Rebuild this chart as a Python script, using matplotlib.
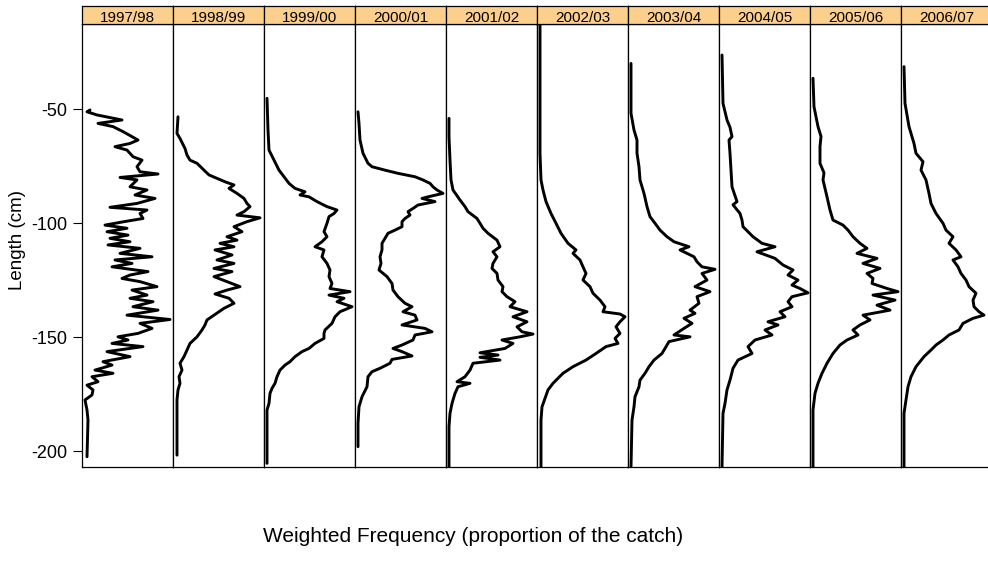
import matplotlib
matplotlib.use("Agg")
import matplotlib.pyplot as plt

plt.rcParams['font.family'] = ['Liberation Sans', 'DejaVu Sans']
plt.rcParams['axes.unicode_minus'] = False

# seasons shown in the strips
seasons = ['1997/98', '1998/99', '1999/00', '2000/01', '2001/02',
           '2002/03', '2003/04', '2004/05', '2005/06', '2006/07']

# length (cm, plotted negative) and weighted frequency (relative units) per season
len_9798 = [-50.4, -51.2, -52.6, -54.8, -56.3, -57.7, -59.9, -62.1, -63.6, -65.1, -66.5, -68.0, -70.9, -72.4,
            -75.3, -77.5, -78.5, -80.0, -81.1, -84.1, -85.5, -87.7, -89.2, -91.4, -93.1, -94.3, -95.8, -98.0,
            -99.4, -100.9, -102.3, -103.8, -105.3, -106.7, -108.2, -109.6, -111.1, -113.3, -114.8, -116.2,
            -117.7, -119.2, -121.3, -122.8, -124.3, -125.7, -127.9, -129.4, -131.6, -133.0, -134.5, -136.7,
            -138.2, -140.4, -142.3, -144.0, -146.2, -148.4, -149.9, -151.3, -152.8, -154.2, -156.4, -158.6,
            -160.8, -162.3, -164.5, -165.9, -167.4, -169.6, -171.1, -173.2, -175.4, -177.6, -182.0, -186.4, -202.5]
freq_9798 = [8, 5, 15, 40, 16, 31, 41, 50, 56, 48, 33, 45, 51, 60, 55, 58, 76, 38, 55, 48, 65, 53, 73, 55, 28,
             65, 58, 61, 42, 23, 45, 25, 46, 28, 48, 26, 58, 38, 70, 33, 50, 30, 66, 48, 40, 58, 75, 50, 65, 48,
             71, 51, 76, 45, 88, 58, 70, 56, 36, 46, 30, 61, 25, 48, 21, 30, 13, 31, 10, 16, 5, 11, 10, 3, 5, 6, 5]

len_9899 = [-53.4, -60.7, -62.9, -67.3, -70.2, -72.4, -73.8, -76.8, -78.9, -80.4, -81.9, -83.3, -84.8, -87.0,
            -89.2, -91.4, -92.8, -95.0, -96.5, -97.7, -99.4, -101.6, -103.8, -106.0, -107.5, -108.9, -110.4,
            -111.8, -114.0, -116.2, -117.7, -119.9, -121.3, -123.5, -125.7, -127.9, -129.4, -131.1, -133.0,
            -135.2, -137.4, -140.4, -142.5, -144.7, -146.9, -149.9, -152.8, -155.7, -158.6, -161.5, -164.5,
            -167.4, -170.3, -173.2, -177.6, -187.9, -201.8]
freq_9899 = [5, 4, 7, 12, 14, 17, 24, 31, 36, 44, 52, 61, 56, 64, 71, 74, 77, 71, 64, 87, 74, 61, 69, 54, 64,
             47, 61, 42, 59, 44, 61, 41, 59, 41, 54, 67, 54, 42, 56, 61, 51, 41, 34, 32, 29, 24, 17, 14, 11, 7,
             9, 6, 7, 5, 4, 4, 4]

len_9900 = [-45.3, -59.2, -68.0, -72.4, -76.8, -79.7, -82.6, -84.8, -86.3, -87.7, -88.5, -90.6, -92.8, -94.3,
            -95.8, -97.2, -100.1, -103.8, -106.0, -108.2, -110.4, -111.8, -114.8, -117.7, -120.6, -123.5,
            -126.5, -128.7, -130.1, -131.6, -133.0, -134.5, -136.7, -138.9, -141.1, -144.0, -146.9, -148.4,
            -150.6, -152.8, -155.0, -156.4, -158.6, -160.8, -162.3, -164.5, -167.4, -170.3, -172.5, -174.7,
            -179.1, -182.0, -187.9, -205.4]
freq_9900 = [3, 4, 5, 10, 15, 20, 25, 31, 41, 36, 45, 53, 63, 73, 70, 65, 63, 60, 63, 58, 51, 60, 58, 63, 66,
             65, 68, 66, 86, 65, 80, 73, 88, 76, 71, 68, 61, 60, 60, 51, 45, 38, 31, 26, 21, 16, 13, 11, 8, 6,
             5, 3, 3, 3]

len_0001 = [-51.2, -56.3, -63.6, -69.4, -73.8, -75.3, -76.8, -78.2, -79.7, -81.1, -82.6, -84.1, -85.5, -87.0,
            -88.5, -89.2, -90.6, -92.1, -93.6, -95.0, -96.5, -98.0, -99.4, -101.6, -103.1, -104.5, -106.7,
            -108.9, -111.8, -114.8, -117.7, -120.6, -123.5, -126.5, -129.4, -132.3, -135.2, -136.7, -138.9,
            -140.4, -142.5, -144.7, -146.2, -147.7, -149.1, -151.3, -153.5, -155.0, -156.4, -158.3, -159.8,
            -161.5, -163.7, -165.2, -167.4, -171.8, -176.2, -180.6, -187.9, -198.1]
freq_0001 = [3, 4, 5, 8, 13, 17, 30, 43, 60, 68, 75, 78, 82, 88, 73, 67, 80, 63, 58, 53, 55, 50, 47, 47, 40,
             33, 30, 27, 27, 25, 26, 24, 32, 37, 38, 43, 50, 57, 48, 60, 62, 47, 70, 77, 60, 58, 47, 38, 47, 57,
             37, 35, 25, 17, 13, 12, 7, 4, 3, 3]

len_0102 = [-54.1, -62.1, -72.4, -81.1, -85.5, -89.9, -92.8, -95.0, -98.0, -100.1, -102.3, -104.5, -107.5,
            -110.4, -112.6, -114.8, -117.7, -119.9, -122.1, -125.0, -127.9, -130.1, -132.3, -134.5, -136.7,
            -138.9, -141.1, -143.3, -145.5, -147.7, -148.7, -149.9, -151.3, -152.8, -155.0, -156.9, -157.9,
            -158.9, -160.1, -161.5, -164.5, -167.4, -169.6, -170.3, -171.8, -174.7, -179.1, -183.5, -189.3, -206.9]
freq_0102 = [3, 3, 4, 5, 7, 14, 19, 22, 31, 34, 37, 42, 51, 54, 47, 51, 47, 46, 51, 52, 57, 56, 61, 69, 64,
             81, 67, 81, 71, 76, 87, 74, 56, 67, 59, 34, 52, 34, 54, 27, 24, 19, 11, 24, 12, 9, 6, 4, 3, 3]

len_0203 = [-12.0, -40.2, -69.4, -81.1, -85.5, -90.6, -95.8, -100.1, -104.5, -108.9, -111.8, -113.3, -116.2,
            -119.2, -122.1, -125.0, -127.9, -130.8, -133.8, -136.7, -138.9, -139.9, -141.1, -143.3, -145.5,
            -148.4, -150.6, -152.8, -154.2, -157.2, -160.1, -163.0, -165.9, -168.1, -170.3, -173.2, -176.9,
            -180.6, -186.4, -206.9]
freq_0203 = [3, 3, 3, 4, 6, 9, 14, 19, 24, 31, 39, 36, 43, 46, 49, 46, 53, 56, 63, 68, 66, 83, 88, 83, 79,
             83, 78, 81, 69, 59, 49, 36, 26, 21, 16, 11, 8, 5, 4, 4]

len_0304 = [-30.0, -51.9, -59.2, -63.6, -69.4, -75.3, -81.1, -87.0, -92.8, -97.2, -100.1, -103.1, -106.0,
            -108.2, -110.4, -111.8, -114.8, -117.0, -119.2, -120.3, -122.1, -125.0, -127.9, -130.1, -132.3,
            -135.2, -138.2, -139.6, -141.8, -144.0, -146.2, -149.1, -149.9, -152.0, -155.0, -157.2, -160.1,
            -163.0, -165.9, -168.9, -171.8, -176.2, -180.6, -186.4, -206.9]
freq_0304 = [3, 3, 6, 9, 9, 11, 12, 16, 19, 22, 27, 32, 39, 46, 61, 52, 66, 69, 74, 87, 74, 79, 67, 82, 69,
             71, 62, 67, 56, 64, 56, 46, 62, 41, 37, 34, 26, 21, 17, 12, 11, 7, 6, 4, 3]

len_0405 = [-26.3, -47.5, -54.8, -58.0, -62.1, -63.6, -69.4, -76.8, -84.1, -90.6, -92.0, -95.8, -98.7, -101.6,
            -106.0, -108.9, -110.4, -112.6, -115.5, -118.4, -120.6, -122.8, -125.0, -127.2, -128.7, -130.6,
            -132.3, -134.5, -136.7, -138.9, -141.1, -143.3, -144.7, -146.9, -149.1, -151.3, -154.2, -157.2,
            -160.1, -163.7, -168.9, -173.2, -179.1, -183.5, -206.9]
freq_0405 = [3, 4, 8, 11, 13, 10, 11, 12, 13, 18, 14, 21, 23, 24, 34, 43, 56, 38, 56, 64, 74, 69, 79, 73, 81,
             89, 73, 69, 73, 61, 66, 49, 59, 46, 53, 36, 29, 33, 19, 14, 11, 8, 6, 4, 3]

len_0506 = [-36.5, -49.0, -57.7, -62.0, -66.5, -73.8, -78.0, -81.1, -88.5, -94.3, -98.7, -100.9, -103.1, -106.0,
            -108.9, -111.1, -113.3, -115.5, -117.7, -119.9, -122.1, -124.3, -126.5, -128.7, -130.1, -131.6,
            -133.8, -136.0, -138.2, -140.4, -142.5, -144.7, -146.9, -149.1, -151.3, -153.5, -157.2, -161.5,
            -165.9, -170.3, -174.7, -182.0, -206.9]
freq_0506 = [3, 4, 8, 11, 10, 10, 14, 13, 17, 20, 23, 33, 38, 43, 50, 57, 47, 67, 53, 70, 57, 63, 62, 77, 88,
             63, 85, 67, 80, 53, 60, 50, 43, 48, 37, 30, 23, 17, 12, 8, 5, 3, 3]

len_0607 = [-31.4, -47.5, -57.7, -65.1, -69.4, -73.1, -76.8, -81.1, -87.0, -91.4, -95.8, -100.1, -103.1,
            -106.0, -108.9, -111.8, -114.8, -116.2, -119.2, -122.1, -125.0, -127.9, -130.8, -133.8, -136.7,
            -138.9, -140.4, -141.8, -144.0, -146.9, -149.1, -151.3, -153.5, -155.7, -158.6, -163.0, -167.4,
            -171.8, -177.6, -183.5, -206.9]
freq_0607 = [3, 4, 8, 13, 15, 22, 20, 25, 28, 30, 35, 42, 45, 52, 48, 55, 60, 52, 57, 60, 65, 68, 75, 72, 73,
             78, 83, 72, 62, 58, 48, 42, 35, 30, 23, 15, 10, 7, 5, 3, 3]

lengths = [len_9798, len_9899, len_9900, len_0001, len_0102,
           len_0203, len_0304, len_0405, len_0506, len_0607]
freqs = [freq_9798, freq_9899, freq_9900, freq_0001, freq_0102,
         freq_0203, freq_0304, freq_0405, freq_0506, freq_0607]

yticks = [-50, -100, -150, -200]

W, H = 988, 577
fig = plt.figure(figsize=(W / 100, H / 100), dpi=100)

left0 = 82
pw = 91
top_px, bot_px = 24, 467
strip_top = 6

for i, season in enumerate(seasons):
    x0 = (left0 + i * pw) / W
    ax = fig.add_axes([x0, (H - bot_px) / H, pw / W, (bot_px - top_px) / H])
    ax.plot(freqs[i], lengths[i], color='black', lw=2.1, solid_joinstyle='round', solid_capstyle='round')
    ax.set_xlim(0, 91)
    ax.set_ylim(-207, -12.7)
    ax.set_xticks([])
    for s in ax.spines.values():
        s.set_linewidth(0.9)
        s.set_color('black')
    if i == 0:
        ax.set_yticks(yticks)
        ax.set_yticklabels([str(t) for t in yticks], fontsize=13)
        ax.tick_params(axis='y', direction='out', length=6.5, width=0.8, pad=4)
    else:
        ax.set_yticks([])

    # strip on top of each panel
    sx = fig.add_axes([x0, (H - top_px) / H, pw / W, (top_px - strip_top) / H])
    sx.set_facecolor('#fdcf8c')
    sx.set_xticks([])
    sx.set_yticks([])
    for s in sx.spines.values():
        s.set_linewidth(0.9)
        s.set_color('black')
    sx.text(0.5, 0.32, season, ha='center', va='center', fontsize=11, transform=sx.transAxes)

fig.text(18 / W, 1 - 240 / H, 'Length (cm)', rotation=90, ha='center', va='center', fontsize=13.5)
fig.text(473 / W, 1 - 537 / H, 'Weighted Frequency (proportion of the catch)',
         ha='center', va='center', fontsize=15)

fig.savefig('out.png', dpi=100)
